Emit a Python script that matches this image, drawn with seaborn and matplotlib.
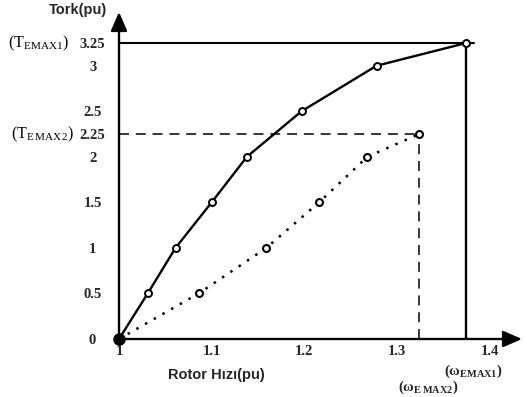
import matplotlib
matplotlib.use("Agg")
import matplotlib.pyplot as plt
import matplotlib.transforms as mtransforms
import seaborn as sns
import pandas as pd

# Torque vs rotor speed for two operating limits
speed_1 = [1.0, 1.031, 1.061, 1.100, 1.138, 1.197, 1.278, 1.375]
torque_1 = [0.0, 0.5, 1.0, 1.5, 2.0, 2.5, 3.0, 3.25]
speed_2 = [1.0, 1.086, 1.159, 1.216, 1.268, 1.324]
torque_2 = [0.0, 0.5, 1.0, 1.5, 2.0, 2.25]

x_ticks = [1.0, 1.1, 1.2, 1.3, 1.4]
x_tick_labels = ["1", "1.1", "1.2", "1.3", "1.4"]
y_ticks = [0.0, 0.5, 1.0, 1.5, 2.0, 2.25, 2.5, 3.0, 3.25]
y_tick_labels = ["0", "0.5", "1", "1.5", "2", "2.25", "2.5", "3", "3.25"]

t_emax1, t_emax2 = torque_1[-1], torque_2[-1]
w_emax1, w_emax2 = speed_1[-1], speed_2[-1]

sns.set_theme(style="white")
plt.rcParams["mathtext.fontset"] = "custom"
plt.rcParams["mathtext.rm"] = "Liberation Serif"
plt.rcParams["mathtext.bf"] = "Liberation Serif:bold"

fig = plt.figure(figsize=(5.27, 3.97), dpi=100)
ax = fig.add_axes([119 / 527, 58 / 397, 403 / 527, 327 / 397])
ax.set_xlim(1.0, 1.435)
ax.set_ylim(0.0, 3.59)
for s in ax.spines.values():
    s.set_visible(False)

df1 = pd.DataFrame({"speed": speed_1, "torque": torque_1})
df2 = pd.DataFrame({"speed": speed_2, "torque": torque_2})

# limit guide lines
ax.plot([1.0, w_emax1 + 0.008], [t_emax1, t_emax1], color="black", lw=1.5, zorder=2)
ax.plot([w_emax1, w_emax1], [0, t_emax1], color="black", lw=1.7, zorder=2)
ax.plot([1.0, w_emax2], [t_emax2, t_emax2], color="black", lw=1.1,
        linestyle=(0, (6.5, 4.5)), zorder=2)
ax.plot([w_emax2, w_emax2], [0, t_emax2], color="black", lw=1.1,
        linestyle=(0, (6.5, 4.5)), zorder=2)

sns.lineplot(data=df1, x="speed", y="torque", ax=ax, color="black", lw=1.7,
             marker="o", markersize=5, markerfacecolor="white",
             markeredgecolor="black", markeredgewidth=1.4, sort=False, zorder=4)
sns.lineplot(data=df2, x="speed", y="torque", ax=ax, color="black", lw=1.8,
             linestyle=(0, (1, 3)), marker="o", markersize=5,
             markerfacecolor="white", markeredgecolor="black",
             markeredgewidth=1.5, sort=False, zorder=4)
ax.plot([1.0], [0.0], marker="o", markersize=8, color="black", clip_on=False, zorder=6)

# axes with arrow heads
arrow = dict(arrowstyle="-|>,head_length=1.15,head_width=0.5", color="black",
             lw=1.7, mutation_scale=10, shrinkA=0, shrinkB=0)
ax.annotate("", xy=(1.435, 0), xytext=(1.0, 0), arrowprops=arrow,
            annotation_clip=False, zorder=5)
ax.annotate("", xy=(1.0, 3.59), xytext=(1.0, 0), arrowprops=arrow,
            annotation_clip=False, zorder=5)

ax.set_xticks(x_ticks, x_tick_labels)
ax.set_yticks(y_ticks, y_tick_labels)
ax.tick_params(axis="both", length=0)
ax.tick_params(axis="y", pad=19)
ax.tick_params(axis="x", pad=4)
for lab in ax.get_yticklabels() + ax.get_xticklabels():
    lab.set_fontfamily("Liberation Serif")
    lab.set_fontweight("bold")
    lab.set_fontsize(10.5)
for lab in ax.get_yticklabels():
    lab.set_horizontalalignment("center")
ax.set_xlabel("")
ax.set_ylabel("")
ax.grid(False)

px = mtransforms.blended_transform_factory(fig.transFigure, ax.transData)
ax.text(38 / 527, t_emax1, r"$(\mathrm{T}_{\mathrm{EMAX1}})$", transform=px,
        ha="center", va="center", fontsize=11.5, color="black")
ax.text(42 / 527, t_emax2, r"$(\mathrm{T}_{\mathrm{E\,MAX2}})$", transform=px,
        ha="center", va="center", fontsize=11.5, color="black")

fig.text(78 / 527, 1 - 10 / 397, "Tork(pu)", ha="center", va="center",
         fontfamily="Liberation Sans", fontweight="bold", fontsize=10.5)
fig.text(216 / 527, 1 - 375 / 397, "Rotor Hızı(pu)", ha="center", va="center",
         fontfamily="Liberation Sans", fontweight="bold", fontsize=10.5)
fig.text(473 / 527, 1 - 371 / 397, r"$\mathbf{(\omega}_{\mathbf{EMAX1}}\mathbf{)}$",
         ha="center", va="center", fontsize=10.5)
fig.text(428 / 527, 1 - 387 / 397, r"$\mathbf{(\omega}_{\mathbf{E\,MAX2}}\mathbf{)}$",
         ha="center", va="center", fontsize=10.5)

fig.savefig("out.png", dpi=100, facecolor="white")
